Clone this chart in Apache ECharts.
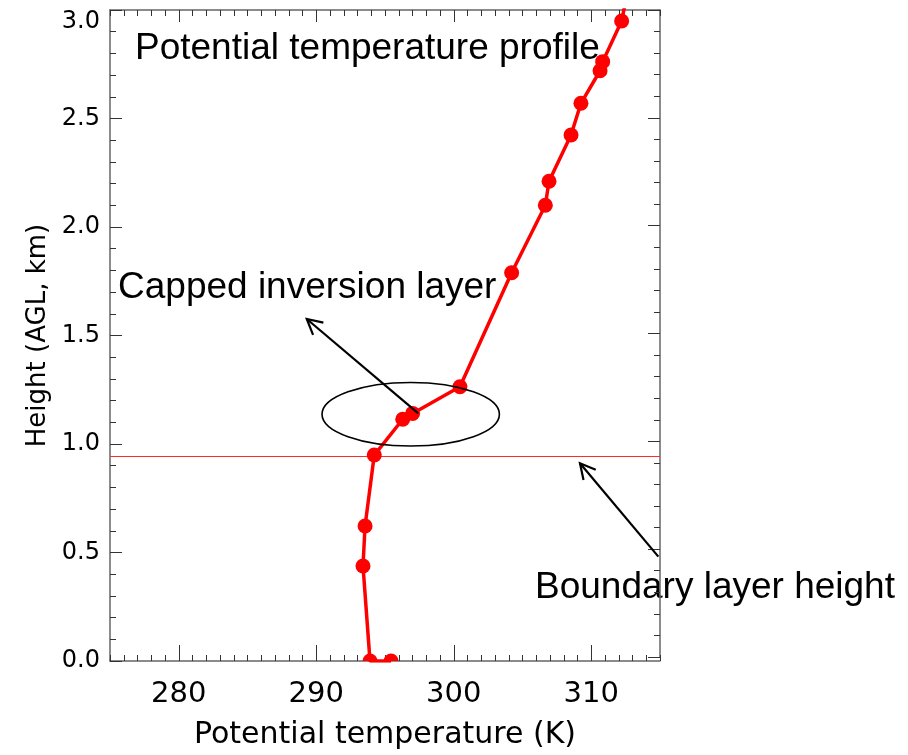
<!DOCTYPE html>
<html>
<head>
<meta charset="utf-8">
<script src="https://cdn.jsdelivr.net/npm/echarts@6/dist/echarts.min.js"></script>
<style>html,body{margin:0;padding:0;background:#fff}#c{width:908px;height:755px}</style>
</head>
<body>
<div id="c"></div>
<script>
// ---- data ----
const temperature = [295.44, 293.91, 293.40, 293.55, 294.22, 296.29, 297.01, 300.45, 304.21, 306.66, 306.93, 308.53, 309.25, 310.64, 310.83, 312.21, 313.00];
const heightKm    = [0.000, 0.000, 0.438, 0.622, 0.949, 1.114, 1.141, 1.264, 1.789, 2.100, 2.211, 2.424, 2.570, 2.720, 2.762, 2.949, 3.200];
const xTicks = [280, 290, 300, 310];
const xRange = [275, 315];
const yRange = [0, 3];
const boundaryLayerHeight = 0.947;
// annotation ellipse: [centerT, centerH, radiusT, radiusH]
const inversionEllipse = [296.87, 1.137, 6.45, 0.1465];
// arrows: [fromT, fromH, toT, toH]
const arrowsFrom = [[297.42, 1.141], [314.88, 0.481]];
const arrowsTo   = [[289.31, 1.576], [309.18, 0.911]];
const titles = {
  main: 'Potential temperature profile',
  capped: 'Capped inversion layer',
  boundary: 'Boundary layer height',
  x: 'Potential temperature (K)',
  y: 'Height (AGL, km)'
};

const points = temperature.map((t, i) => [t, heightKm[i]]);
const arrowData = arrowsFrom.map((f, i) => [f[0], f[1], arrowsTo[i][0], arrowsTo[i][1]]);

const chart = echarts.init(document.getElementById('c'), null, {renderer: 'canvas'});
const G = {left: 110, right: 248, top: 10, bottom: 94};
const axisLineStyle = {color: '#666', width: 1.5};
const tickStyle = {color: '#333', width: 1};
const tickFont = 'DejaVu Sans';

function minorX(gi, pos) {
  return {
    type: 'value', gridIndex: gi, position: pos, min: xRange[0], max: xRange[1], interval: 1,
    axisLine: {show: true, onZero: false, lineStyle: axisLineStyle},
    axisTick: {show: true, inside: true, length: 6, lineStyle: tickStyle},
    axisLabel: {show: false}, splitLine: {show: false}
  };
}
function majorX(gi, pos, labels) {
  return {
    type: 'value', gridIndex: gi, position: pos, min: xRange[0], max: xRange[1],
    axisLine: {show: false, onZero: false},
    axisTick: {show: true, inside: true, length: 12, customValues: xTicks, lineStyle: tickStyle},
    axisLabel: labels ? {show: true, customValues: xTicks, margin: 23, fontSize: 29, fontFamily: tickFont, color: '#000', formatter: v => String(v)} : {show: false},
    splitLine: {show: false},
    name: labels ? titles.x : '',
    nameLocation: 'middle', nameGap: 63,
    nameTextStyle: {fontSize: 30, fontFamily: tickFont, color: '#000'}
  };
}
function yAx(gi, pos, labels) {
  return {
    type: 'value', gridIndex: gi, position: pos, min: yRange[0], max: yRange[1], interval: 0.5,
    axisLine: {show: true, onZero: false, lineStyle: axisLineStyle},
    axisTick: {show: true, inside: true, length: 12, lineStyle: tickStyle},
    minorTick: {show: true, splitNumber: 5, length: 6, lineStyle: tickStyle},
    axisLabel: labels ? {show: true, margin: 10, fontSize: 24, fontFamily: tickFont, color: '#000',
                         verticalAlignMaxLabel: 'top', formatter: v => v.toFixed(1)} : {show: false},
    splitLine: {show: false}, minorSplitLine: {show: false},
    name: labels ? titles.y : '',
    nameLocation: 'middle', nameGap: 50,
    nameTextStyle: {fontSize: 26, fontFamily: tickFont, color: '#000'}
  };
}
function hiddenY(gi) {
  return {type: 'value', gridIndex: gi, min: yRange[0], max: yRange[1], show: false, axisLine: {onZero: false}};
}

const option = {
  animation: false,
  backgroundColor: '#fff',
  grid: [Object.assign({}, G), Object.assign({}, G), Object.assign({}, G), Object.assign({}, G)],
  xAxis: [minorX(0, 'bottom'), majorX(1, 'bottom', true), minorX(2, 'top'), majorX(3, 'top', false)],
  yAxis: [yAx(0, 'left', true), yAx(1, 'right', false), hiddenY(2), hiddenY(3)],
  series: [
    {
      // boundary layer height line across the plot
      type: 'custom', xAxisIndex: 0, yAxisIndex: 0, data: [[xRange[0], boundaryLayerHeight]], clip: true, z: 2,
      encode: {x: 0, y: 1},
      renderItem: function (p, api) {
        const cs = p.coordSys;
        const y = Math.round(api.coord([api.value(0), api.value(1)])[1]) + 0.5;
        return {type: 'line', shape: {x1: cs.x, y1: y, x2: cs.x + cs.width, y2: y},
                style: {stroke: '#ff2a2a', lineWidth: 1}};
      }
    },
    {
      type: 'line', xAxisIndex: 0, yAxisIndex: 0, data: points, clip: true,
      showSymbol: false, symbol: 'none',
      lineStyle: {color: '#ff0000', width: 3.5}, z: 3
    },
    {
      type: 'custom', xAxisIndex: 0, yAxisIndex: 0, data: points, clip: true, z: 4,
      encode: {x: 0, y: 1},
      renderItem: function (p, api) {
        const c = api.coord([api.value(0), api.value(1)]);
        return {type: 'circle', shape: {cx: c[0], cy: c[1], r: 7.5}, style: {fill: '#ff0000'}};
      }
    },
    {
      type: 'custom', xAxisIndex: 0, yAxisIndex: 0, data: [inversionEllipse], clip: false, z: 5,
      encode: {x: 0, y: 1},
      renderItem: function (p, api) {
        const c = api.coord([api.value(0), api.value(1)]);
        const s = api.size([api.value(2), api.value(3)]);
        return {type: 'ellipse', shape: {cx: c[0], cy: c[1], rx: s[0], ry: s[1]},
                style: {fill: 'none', stroke: '#000', lineWidth: 1.6}};
      }
    },
    {
      type: 'custom', xAxisIndex: 0, yAxisIndex: 0, data: arrowData, clip: false, z: 5,
      encode: {x: [0, 2], y: [1, 3]},
      renderItem: function (p, api) {
        const a = api.coord([api.value(0), api.value(1)]);
        const b = api.coord([api.value(2), api.value(3)]);
        const ang = Math.atan2(b[1] - a[1], b[0] - a[0]);
        const L = 17, sp = 28 * Math.PI / 180;
        const h1 = [b[0] - L * Math.cos(ang - sp), b[1] - L * Math.sin(ang - sp)];
        const h2 = [b[0] - L * Math.cos(ang + sp), b[1] - L * Math.sin(ang + sp)];
        return {type: 'group', children: [
          {type: 'line', shape: {x1: a[0], y1: a[1], x2: b[0], y2: b[1]}, style: {stroke: '#000', lineWidth: 2.2}},
          {type: 'polyline', shape: {points: [h1, b, h2]}, style: {stroke: '#000', lineWidth: 2.2, fill: 'none'}}
        ]};
      }
    }
  ],
  graphic: [
    {type: 'text', z: 10, style: {x: 135, y: 48.5, text: titles.main, font: '37px "Liberation Sans", Arial, sans-serif', fill: '#000', align: 'left', verticalAlign: 'middle'}},
    {type: 'text', z: 10, style: {x: 118, y: 288, text: titles.capped, font: '37px "Liberation Sans", Arial, sans-serif', fill: '#000', align: 'left', verticalAlign: 'middle'}},
    {type: 'text', z: -1, style: {x: 535, y: 588, text: titles.boundary, font: '37px "Liberation Sans", Arial, sans-serif', fill: '#000', align: 'left', verticalAlign: 'middle'}}
  ]
};
chart.setOption(option);
</script>
</body>
</html>
